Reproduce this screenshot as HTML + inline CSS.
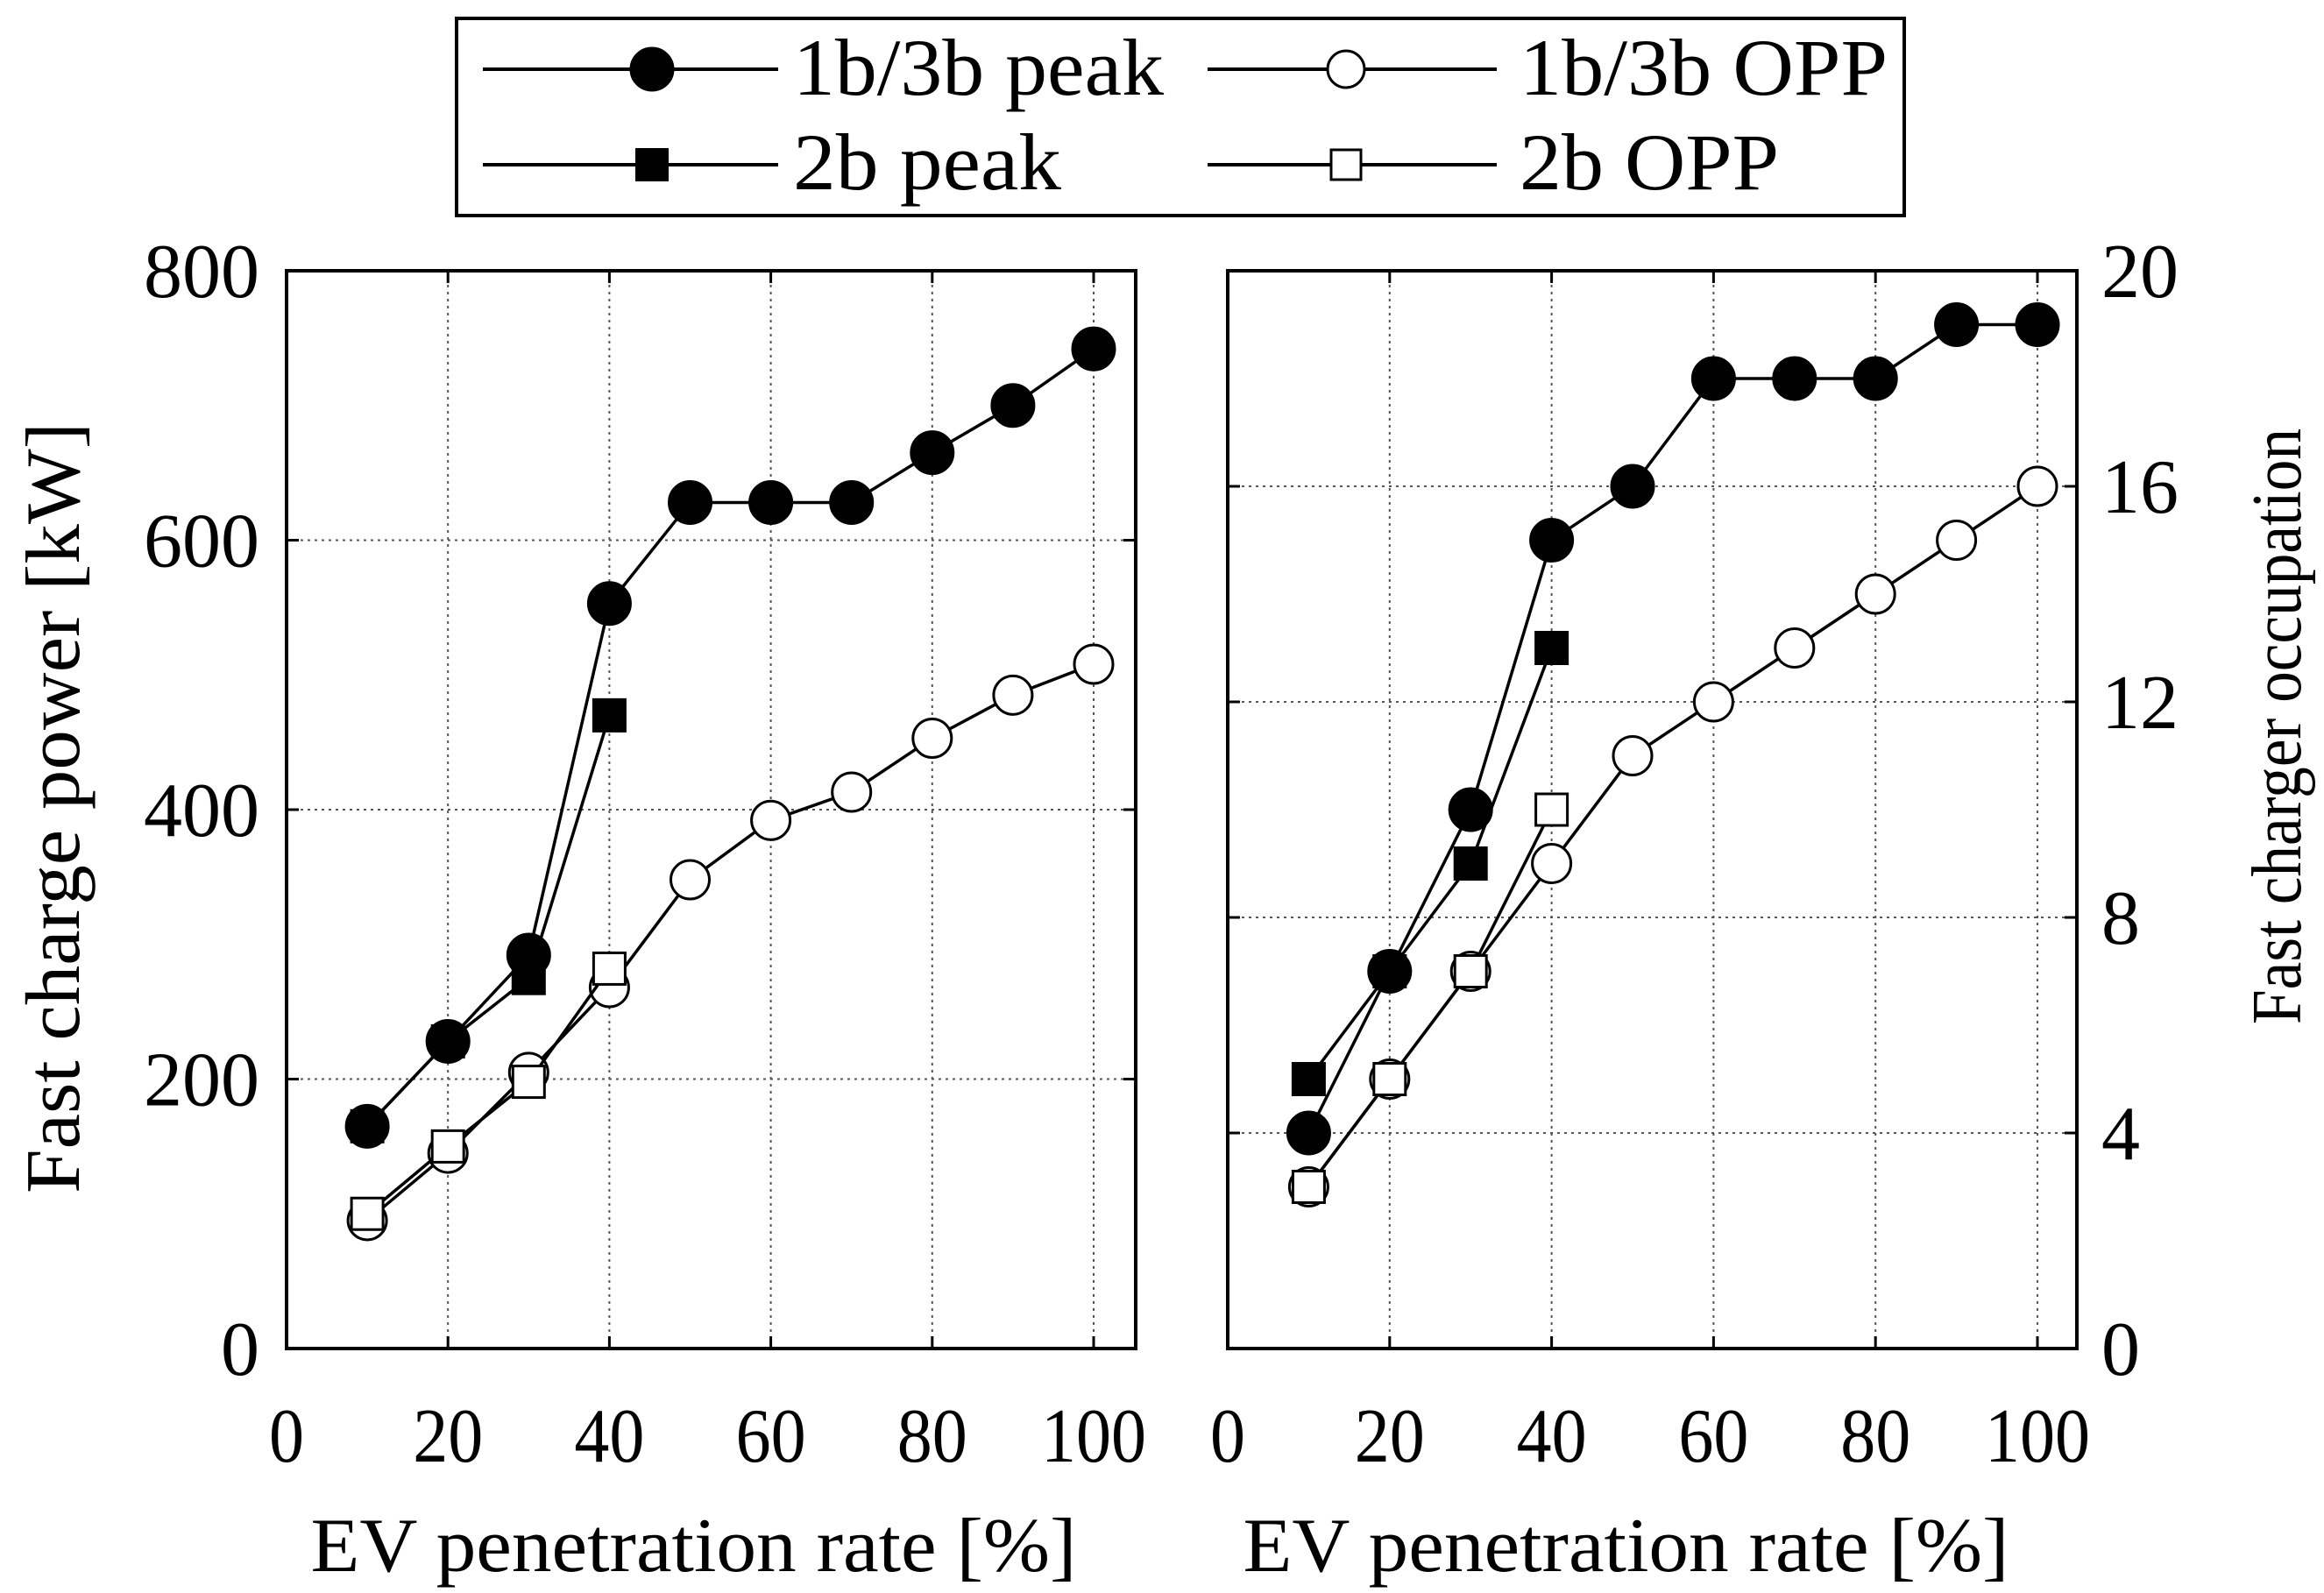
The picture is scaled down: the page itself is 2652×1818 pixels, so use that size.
<!DOCTYPE html>
<html><head><meta charset="utf-8"><style>
html,body{margin:0;padding:0;background:#fff}
svg{display:block}
text{font-family:"Liberation Serif","Times New Roman",serif;fill:#000}
</style></head><body>
<svg id="chart" width="2652" height="1818" viewBox="0 0 2652 1818" xmlns="http://www.w3.org/2000/svg">
<g id="legend">
<rect x="521" y="21" width="1652" height="225" fill="#fff" stroke="#000" stroke-width="4"/>
<g>
<line x1="551" y1="79" x2="888" y2="79" stroke="#000" stroke-width="4"/>
<circle cx="744" cy="79" r="24" fill="#000" stroke="#000" stroke-width="3"/>
<text x="905" y="108" font-size="92" textLength="423" lengthAdjust="spacingAndGlyphs">1b/3b peak</text></g>
<g>
<line x1="1378" y1="79" x2="1708" y2="79" stroke="#000" stroke-width="4"/>
<circle cx="1536" cy="79" r="21" fill="#fff" stroke="#000" stroke-width="3"/>
<text x="1734" y="108" font-size="92" textLength="420" lengthAdjust="spacingAndGlyphs">1b/3b OPP</text></g>
<g>
<line x1="551" y1="188" x2="888" y2="188" stroke="#000" stroke-width="4"/>
<rect x="725" y="169" width="38" height="38" fill="#000"/>
<text x="905" y="216" font-size="92" textLength="306" lengthAdjust="spacingAndGlyphs">2b peak</text></g>
<g>
<line x1="1378" y1="188" x2="1708" y2="188" stroke="#000" stroke-width="4"/>
<rect x="1519" y="171" width="34" height="34" fill="#fff" stroke="#000" stroke-width="3"/>
<text x="1734" y="216" font-size="92" textLength="296" lengthAdjust="spacingAndGlyphs">2b OPP</text></g>
</g>
<g id="plots"></g>
</svg>
<script>
const xValues=[10,20,30,40,50,60,70,80,90,100];
const xValues2b=[10,20,30,40];
const xTicks=[0,20,40,60,80,100];
const powerPeak=[165,228,292,553,628,628,628,665,700,742];
const powerOpp=[95,145,205,268,348,392,413,453,485,508];
const power2bPeak=[165,228,275,470];
const power2bOpp=[100,150,198,282];
const powerTicks=[0,200,400,600,800];
const occPeak=[4,7,10,15,16,18,18,18,19,19];
const occOpp=[3,5,7,9,11,12,13,14,15,16];
const occ2bPeak=[5,7,9,13];
const occ2bOpp=[3,5,7,10];
const occTicks=[0,4,8,12,16,20];

const NS="http://www.w3.org/2000/svg";
const root=document.getElementById('plots');
function mk(tag,attrs,parent){const e=document.createElementNS(NS,tag);for(const k in attrs)e.setAttribute(k,attrs[k]);parent.appendChild(e);return e;}

function panel(cfg){
  const g=mk('g',{},root);
  
  
  const L=cfg.x0,R=cfg.x1,T=309,B=1539;
  const sx=v=>L+(v/100)*(cfg.x100-L);
  const sy=v=>B-(v/cfg.ymax)*(B-T);
  xTicks.forEach(t=>{
    if(t>0&&t<=100){const l=mk('line',{x1:sx(t),x2:sx(t),y1:T,y2:B,stroke:'#555','stroke-width':2,'stroke-dasharray':'3,5'},g);
    
    }
    mk('line',{x1:sx(t),x2:sx(t),y1:B,y2:B-14,stroke:'#000','stroke-width':3},g);
    mk('line',{x1:sx(t),x2:sx(t),y1:T,y2:T+14,stroke:'#000','stroke-width':3},g);
    const w=String(t).length*40;
    const tx=mk('text',{x:sx(t),y:1668,'font-size':88,'text-anchor':'middle',textLength:w,lengthAdjust:'spacingAndGlyphs'},g);
    tx.textContent=t;
    
    
  });
  cfg.ticks.forEach(t=>{
    if(t>0&&t<cfg.ymax){const l=mk('line',{x1:L,x2:R,y1:sy(t),y2:sy(t),stroke:'#555','stroke-width':2,'stroke-dasharray':'3,5'},g);
    
    }
    mk('line',{x1:L,x2:L+14,y1:sy(t),y2:sy(t),stroke:'#000','stroke-width':3},g);
    mk('line',{x1:R,x2:R-14,y1:sy(t),y2:sy(t),stroke:'#000','stroke-width':3},g);
    const w=String(t).length*44;
    const tx=mk('text',cfg.right?{x:2398,y:sy(t)+30,'font-size':88,'text-anchor':'start',textLength:w,lengthAdjust:'spacingAndGlyphs'}:{x:296,y:sy(t)+30,'font-size':88,'text-anchor':'end',textLength:w,lengthAdjust:'spacingAndGlyphs'},g);
    tx.textContent=t;
    
    
  });
  const fr=mk('rect',{x:L,y:T,width:R-L,height:B-T,fill:'none',stroke:'#000','stroke-width':4},g);
  
  
  const xt=mk('text',{x:(L+R)/2+(cfg.right?-30:-20),y:1793,'font-size':88,'text-anchor':'middle',textLength:874,lengthAdjust:'spacingAndGlyphs'},g);
  xt.textContent='EV penetration rate [%]';
  
  
  const yt=mk('text',{x:0,y:0,'font-size':cfg.yfs,'text-anchor':'middle',textLength:cfg.ylen,lengthAdjust:'spacingAndGlyphs',transform:`translate(${cfg.ytx},${cfg.yty}) rotate(-90)`},g);
  yt.textContent=cfg.ytitle;
  
  
  function series(xs,ys,marker,fill,nm){
    const sg=mk('g',{},g);
    
    
    const pts=xs.map((x,i)=>sx(x)+','+sy(ys[i])).join(' ');
    mk('polyline',{points:pts,fill:'none',stroke:'#000','stroke-width':3.5},sg);
    xs.forEach((x,i)=>{
      let m;
      if(marker==='c') m=mk('circle',{cx:sx(x),cy:sy(ys[i]),r:fill==='#000'?24:22,fill:fill,stroke:'#000','stroke-width':3},sg);
      else m=mk('rect',{x:sx(x)-18,y:sy(ys[i])-18,width:36,height:36,fill:fill,stroke:'#000','stroke-width':3},sg);
      
      
    });
  }
  series(xValues,cfg.opp,'c','#fff','series-1b3b-opp');
  series(xValues2b,cfg.opp2b,'s','#fff','series-2b-opp');
  series(xValues,cfg.peak,'c','#000','series-1b3b-peak');
  series(xValues2b,cfg.peak2b,'s','#000','series-2b-peak');
}
panel({name:'power-panel',x0:327,x1:1296,x100:1248,ymax:800,ticks:powerTicks,right:false,peak:powerPeak,opp:powerOpp,peak2b:power2bPeak,opp2b:power2bOpp,ytitle:'Fast charge power [kW]',ytx:90,yty:922,ylen:880,yfs:88});
panel({name:'occupation-panel',x0:1401,x1:2370,x100:2325,ymax:20,ticks:occTicks,right:true,peak:occPeak,opp:occOpp,peak2b:occ2bPeak,opp2b:occ2bOpp,ytitle:'Fast charger occupation',ytx:2625,yty:829,ylen:680,yfs:80});
</script>
</body></html>
